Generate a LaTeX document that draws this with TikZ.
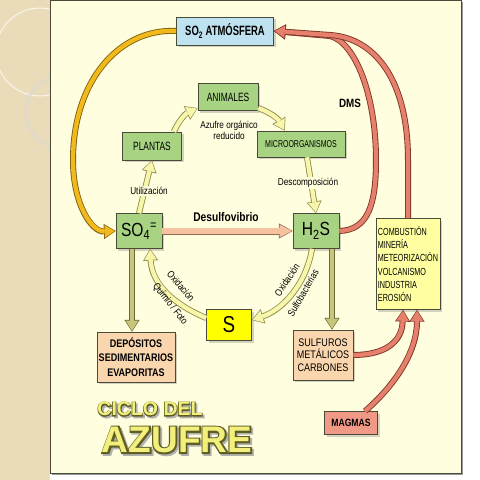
\documentclass[tikz,border=0pt]{standalone}
\usepackage{fontspec}
\setmainfont{Liberation Sans}[FakeStretch=0.82]
\newfontfamily\capsfont{Liberation Sans}[FakeStretch=0.7]
\newfontfamily\titlefont{Liberation Sans Bold}
\newfontfamily\titleedgefont{Liberation Sans Bold}[FakeBold=8]
\usepackage{tikz}
\usetikzlibrary{shapes,arrows.meta,calc,shadows,positioning}

\definecolor{tanbg}{HTML}{EBDCB9}
\definecolor{paper}{HTML}{FFFEDF}
\definecolor{boxedge}{HTML}{4A4A3A}
\definecolor{leaf}{HTML}{A8D382}
\definecolor{sky}{HTML}{BEE2F0}
\definecolor{peach}{HTML}{F9D6AE}
\definecolor{lemon}{HTML}{FFFF00}
\definecolor{cream}{HTML}{FFFFA2}
\definecolor{magma}{HTML}{EF9986}
\definecolor{palefill}{HTML}{F8F6AA}
\definecolor{paleedge}{HTML}{8E8C4C}
\definecolor{rosefill}{HTML}{F6C3A0}
\definecolor{roseedge}{HTML}{9A6A50}
\definecolor{olivefill}{HTML}{C8C67C}
\definecolor{oliveedge}{HTML}{6A6A34}
\definecolor{redfill}{HTML}{E5806C}
\definecolor{rededge}{HTML}{7E3326}
\definecolor{goldfill}{HTML}{F2B91C}
\definecolor{goldedge}{HTML}{7C5E10}
\definecolor{titlefill}{HTML}{F3EF7C}
\definecolor{titleedge}{HTML}{5E5E22}

\tikzstyle{box} = [rectangle, draw=boxedge, line width=0.6pt, align=center, inner sep=1pt,
    drop shadow={shadow xshift=2pt, shadow yshift=-2pt, opacity=0.35}]
\tikzstyle{greenbox} = [box, fill=leaf, font=\capsfont\fontsize{12}{13}\selectfont]
\tikzstyle{speciesbox} = [box, fill=leaf, minimum width=46pt, minimum height=35pt,
    font=\fontsize{19}{20}\selectfont]
\tikzstyle{peachbox} = [box, fill=peach, minimum height=50pt]
\tikzstyle{lbl} = [font=\fontsize{10}{11}\selectfont, inner sep=1pt]
\tikzstyle{onarrow} = [lbl, fill=paper]

\tikzset{
  fatarrow/.style 2 args={draw=#1, line width=4.3pt, shorten >=1pt,
    -{Triangle[length=10pt, width=12.5pt, line width=0pt]},
    preaction={draw=#2, line width=6pt, shorten >=0pt,
      -{Triangle[length=11.8pt, width=15.2pt, line width=0pt]}}},
  widearrow/.style 2 args={draw=#1, line width=5.4pt, shorten >=1pt,
    -{Triangle[length=12pt, width=12.5pt, line width=0pt]},
    preaction={draw=#2, line width=7pt, shorten >=0pt,
      -{Triangle[length=13.8pt, width=15.2pt, line width=0pt]}}}
}

% outlined title letters
\newcommand{\ringtext}[1]{%
  \makebox[0pt][l]{\hspace*{1.8pt}\raisebox{-1.8pt}{\titleedgefont\color{black!30}#1}}%
  \makebox[0pt][l]{\titleedgefont\color{titleedge}#1}%
  {\titlefont\color{titlefill}#1}}

\begin{document}
\begin{tikzpicture}[x=1pt, y=-1pt, node distance=2cm, auto]
    \useasboundingbox (0,0) rectangle (480,480);
    \fill [white] (0,0) rectangle (480,480);
    \fill [tanbg] (0,0) rectangle (50,480);
    \draw [white, line width=1pt, opacity=0.7] (40,52) circle (44);
    \draw [black!15, line width=3pt, opacity=0.5] (62,112) circle (36);
    \fill [black!40] (52,2) rectangle (463,475);
    \draw [boxedge, line width=0.6pt, fill=paper] (50,0) rectangle (461,473);

    \node [box, fill=sky, minimum width=97pt, minimum height=28pt,
        font=\capsfont\bfseries\fontsize{13.5}{14}\selectfont] (so2) at (225,31) {SO\textsubscript{2} ATMÓSFERA};
    \node [greenbox, minimum width=60pt, minimum height=27pt] (animales) at (228,97) {ANIMALES};
    \node [greenbox, minimum width=59pt, minimum height=28pt] (plantas) at (152,146) {PLANTAS};
    \node [greenbox, minimum width=88pt, minimum height=26pt,
        font=\capsfont\fontsize{10}{11}\selectfont] (micro) at (301,144) {MICROORGANISMOS};
    \node [speciesbox] (so4) at (139,231) {SO\textsubscript{4}\textsuperscript{=}};
    \node [speciesbox, right of=so4, node distance=177pt] (h2s) {H\textsubscript{2}S};
    \node [box, fill=lemon, minimum width=45pt, minimum height=31pt,
        font=\fontsize{23}{23}\selectfont] (s) at (229,325) {S};
    \node [peachbox, minimum width=78pt, font=\bfseries\fontsize{11}{14.5}\selectfont] (depositos) at (136,357)
        {DEPÓSITOS\\SEDIMENTARIOS\\EVAPORITAS};
    \node [peachbox, minimum width=60pt, font=\fontsize{11}{12.5}\selectfont] (sulfuros) at (323,355)
        {SULFUROS\\METÁLICOS\\CARBONES};
    \node [box, fill=cream, minimum width=64pt, minimum height=91pt, align=left,
        font=\capsfont\fontsize{10.3}{13.3}\selectfont] (fuentes) at (408,264)
        {COMBUSTIÓN\\MINERÍA\\METEORIZACIÓN\\VOLCANISMO\\INDUSTRIA\\EROSIÓN};
    \node [box, fill=magma, minimum width=53pt, minimum height=23pt,
        font=\bfseries\fontsize{10.5}{11}\selectfont] (magmas) at (351,423) {MAGMAS};

    % Draw edges
    \draw [fatarrow={goldfill}{goldedge}] (so2.west) .. controls (120,28) and (73,80) .. (73,160)
        .. controls (73,205) and (92,232) .. (so4.west);
    \draw [fatarrow={redfill}{rededge}] (h2s.east) .. controls (368,230) and (376,205) .. (376,160)
        .. controls (376,95) and (355,42) .. (330,36) -- (so2.east);
    \draw [fatarrow={redfill}{rededge}] (fuentes.north) -- (408,160)
        .. controls (408,80) and (375,38) .. (330,35) -- (so2.east);
    \draw [fatarrow={redfill}{rededge}] (sulfuros.east) .. controls (385,355) and (402,342) .. ([xshift=-5pt]fuentes.south);
    \draw [fatarrow={redfill}{rededge}] ([xshift=14pt]magmas.north) .. controls (395,385) and (417,352) .. ([xshift=9pt]fuentes.south);
    \draw [widearrow={rosefill}{roseedge}] (so4.east) -- (h2s.west);
    \draw [fatarrow={olivefill}{oliveedge}] ([xshift=-7pt]so4.south) -- ([xshift=-4pt]depositos.north);
    \draw [fatarrow={olivefill}{oliveedge}] ([xshift=16pt]h2s.south) -- ([xshift=9pt]sulfuros.north);
    \draw [fatarrow={palefill}{paleedge}] (so4.north) -- (plantas.south);
    \draw [fatarrow={palefill}{paleedge}] ([xshift=-8pt]plantas.north east) to [bend left=20] (animales.200);
    \draw [fatarrow={palefill}{paleedge}] (animales.-20) to [bend left=20] ([xshift=28pt]micro.north west);
    \draw [fatarrow={palefill}{paleedge}] ([xshift=6pt]micro.south) -- (h2s.north);
    \draw [fatarrow={palefill}{paleedge}] ([yshift=7pt]s.west) .. controls (175,305) and (152,285) .. ([xshift=11pt]so4.south);
    \draw [fatarrow={palefill}{paleedge}] ([xshift=-4pt]h2s.south) .. controls (306,285) and (282,310) .. ([yshift=5pt]s.east);

    \node [lbl, align=center] (organico) at (229,130) {Azufre orgánico\\reducido};
    \node [onarrow] (utilizacion) at (149,191) {Utilización};
    \node [onarrow] (descomp) at (308,183) {Descomposición};
    \node [lbl, font=\bfseries\fontsize{12.5}{13}\selectfont] (desulfo) at (226,217) {Desulfovibrio};
    \node [lbl, font=\bfseries\fontsize{12}{13}\selectfont] (dms) at (350,103) {DMS};
    \node [lbl, rotate=-50] (oxleft) at (181,286) {Oxidación};
    \node [lbl, rotate=-52] (quimio) at (170,304) {Químio / Foto};
    \node [lbl, rotate=56] (oxright) at (287,280) {Oxidación};
    \node [lbl, rotate=60] (sulfobact) at (303,293) {Sulfobacterias};

    \node [font=\fontsize{19.5}{20}\selectfont] (ciclo) at (150,410) {\ringtext{CICLO DEL}};
    \node [font=\fontsize{37}{38}\selectfont] (azufre) at (177,441) {\ringtext{AZUFRE}};
\end{tikzpicture}
\end{document}
